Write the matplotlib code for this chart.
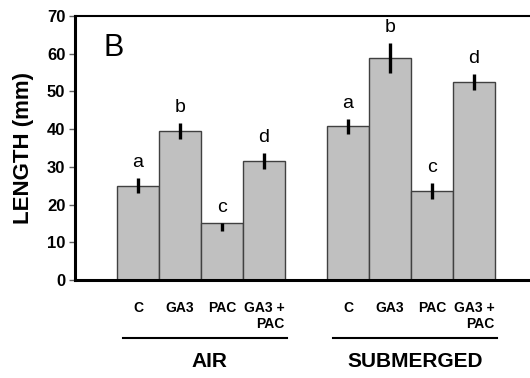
import matplotlib.pyplot as plt

plt.rcParams['font.family'] = ['Liberation Sans', 'DejaVu Sans']

treatments = ['C', 'GA3', 'PAC', 'GA3 +\nPAC']
groups = ['AIR', 'SUBMERGED']
air_len = [25.0, 39.5, 15.0, 31.5]
air_err_lo = [2.0, 2.2, 1.9, 2.1]
air_err_hi = [2.0, 2.2, 0.0, 2.1]
sub_len = [40.7, 58.8, 23.6, 52.6]
sub_err_lo = [2.0, 4.0, 2.1, 2.1]
sub_err_hi = [2.0, 4.0, 2.1, 2.1]
letters = ['a', 'b', 'c', 'd']

fig = plt.figure(figsize=(5.3, 3.78), dpi=100)
ax = fig.add_axes([0.1415, 0.2593, 0.8585, 0.6984])

air_x = [1.5, 2.5, 3.5, 4.5]
sub_x = [6.5, 7.5, 8.5, 9.5]

for xs, vals, lo, hi in [(air_x, air_len, air_err_lo, air_err_hi),
                         (sub_x, sub_len, sub_err_lo, sub_err_hi)]:
    ax.bar(xs, vals, width=1.0, color='#c0c0c0', edgecolor='#404040', linewidth=1)
    ax.errorbar(xs, vals, yerr=[lo, hi], fmt='none', ecolor='black',
                elinewidth=2.4, capsize=0)
    for x, v, h, l in zip(xs, vals, hi, letters):
        ax.annotate(l, (x, v + h), xytext=(0, 8), textcoords='offset points',
                    ha='center', va='baseline', fontsize=14)

ax.set_xlim(0, 10.83)
ax.set_ylim(0, 70)
ax.set_yticks(range(0, 71, 10))
ax.set_xticks(air_x + sub_x)
ax.set_xticklabels(treatments * 2, fontsize=10, fontweight='bold', multialignment='right')
ax.tick_params(axis='x', length=0, pad=15)
ax.tick_params(axis='y', direction='out', length=4, width=1, color='#606060', pad=3)
for lab in ax.get_yticklabels():
    lab.set_fontsize(12)
    lab.set_fontweight('bold')

ax.spines['right'].set_visible(False)
ax.spines['left'].set_linewidth(2.2)
ax.spines['bottom'].set_linewidth(2.2)
ax.spines['top'].set_linewidth(1.5)

ax.set_ylabel('LENGTH (mm)', fontsize=16, fontweight='bold', labelpad=9)

ax.text(0.084, 0.879, 'B', transform=ax.transAxes, fontsize=22, ha='center', va='center')

tr = ax.get_xaxis_transform()
ax.plot([1.14, 5.05], [-0.22, -0.22], color='black', lw=1.5, transform=tr, clip_on=False)
ax.plot([6.14, 10.05], [-0.22, -0.22], color='black', lw=1.5, transform=tr, clip_on=False)
ax.text(3.2, -0.307, groups[0], transform=tr, ha='center', va='center',
        fontsize=15, fontweight='bold')
ax.text(8.1, -0.307, groups[1], transform=tr, ha='center', va='center',
        fontsize=15, fontweight='bold')

fig.savefig('out.png', dpi=100)
